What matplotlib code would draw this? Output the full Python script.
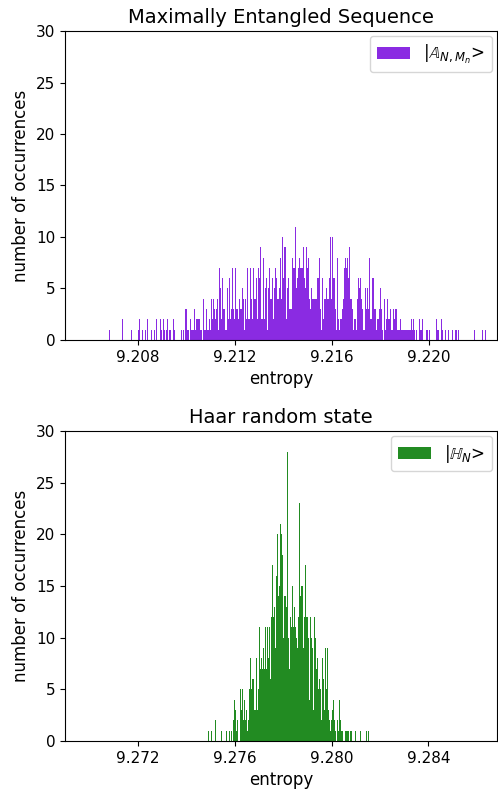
import matplotlib
matplotlib.use("Agg")
import matplotlib.pyplot as plt
import numpy as np

# ---------------- data ----------------
# Maximally entangled sequence: histogram counts (consecutive bins)
top_start = 9.20681
top_binw = 0.0000412
top_counts = [
    1, 0, 0, 0, 0, 0, 0, 0, 0, 0,
    0, 0, 0, 2, 0, 0, 0, 0, 0, 0,
    0, 0, 1, 0, 0, 0, 0, 0, 0, 1,
    2, 0, 0, 1, 0, 0, 1, 0, 2, 0,
    0, 0, 1, 0, 0, 1, 0, 2, 0, 0,
    0, 2, 1, 0, 2, 1, 0, 1, 2, 0,
    1, 1, 0, 0, 2, 1, 0, 0, 0, 0,
    0, 0, 1, 0, 1, 0, 3, 3, 1, 1,
    0, 2, 1, 1, 1, 3, 1, 2, 2, 2,
    2, 1, 1, 0, 4, 1, 1, 3, 1, 1,
    2, 1, 4, 2, 4, 3, 2, 3, 4, 1,
    7, 5, 2, 6, 3, 3, 1, 1, 5, 2,
    6, 2, 3, 7, 3, 2, 7, 3, 3, 2,
    4, 3, 3, 5, 4, 1, 4, 2, 7, 2,
    2, 7, 4, 2, 7, 4, 4, 6, 2, 7,
    6, 9, 2, 2, 8, 2, 5, 6, 1, 5,
    7, 4, 4, 6, 2, 5, 7, 6, 4, 4,
    5, 8, 4, 10, 6, 9, 9, 2, 5, 6,
    3, 3, 3, 8, 7, 7, 11, 5, 6, 7,
    8, 7, 7, 7, 9, 6, 5, 9, 7, 8,
    4, 3, 5, 4, 4, 4, 4, 4, 6, 6,
    8, 3, 1, 6, 2, 4, 4, 5, 4, 4,
    6, 10, 4, 10, 6, 6, 3, 1, 8, 2,
    1, 2, 2, 3, 4, 7, 8, 7, 8, 6,
    9, 4, 4, 3, 1, 2, 2, 1, 4, 6,
    5, 6, 4, 3, 1, 1, 5, 3, 5, 3,
    8, 2, 2, 6, 6, 3, 3, 1, 2, 2,
    3, 5, 3, 1, 0, 4, 1, 2, 4, 2,
    2, 3, 1, 1, 3, 2, 3, 3, 1, 1,
    1, 2, 1, 1, 1, 1, 1, 1, 1, 1,
    1, 1, 2, 1, 2, 1, 0, 1, 0, 0,
    2, 1, 1, 2, 0, 0, 0, 1, 1, 0,
    1, 0, 0, 0, 0, 0, 0, 2, 1, 1,
    0, 0, 2, 1, 0, 0, 1, 0, 0, 1,
    0, 0, 0, 1, 0, 0, 1, 1, 0, 1,
    0, 0, 0, 0, 0, 0, 0, 0, 0, 0,
    0, 0, 0, 0, 0, 1, 0, 0, 0, 0,
    0, 0, 0, 1, 0, 0, 1,
]

# Haar random state: histogram counts (consecutive bins)
bot_start = 9.27476
bot_binw = 0.0000413
bot_counts = [
    0, 0, 0, 1, 0, 0, 1, 0, 0, 0,
    2, 0, 0, 0, 0, 0, 1, 0, 0, 0,
    0, 1, 0, 0, 1, 0, 1, 0, 2, 4,
    3, 1, 2, 0, 0, 5, 3, 5, 2, 4,
    2, 3, 1, 2, 5, 8, 5, 6, 6, 3,
    3, 8, 3, 5, 11, 7, 8, 7, 9, 7,
    11, 7, 11, 8, 11, 6, 12, 17, 12, 13,
    9, 16, 20, 14, 15, 21, 20, 18, 10, 14,
    14, 13, 28, 10, 7, 12, 11, 15, 11, 13,
    11, 10, 9, 12, 23, 14, 15, 15, 9, 12,
    17, 12, 12, 10, 4, 12, 10, 9, 3, 12,
    10, 7, 8, 5, 6, 5, 2, 8, 6, 3,
    9, 5, 9, 3, 2, 1, 2, 3, 4, 2,
    1, 0, 2, 1, 4, 2, 1, 1, 0, 0,
    1, 1, 1, 1, 0, 1, 1, 0, 0, 0,
    1, 0, 0, 0, 0, 1, 0, 0, 0, 0,
    0, 1, 0, 1,
]

top_xlim = (9.2050, 9.2228)
bot_xlim = (9.26897, 9.28684)
top_ticks = [9.208, 9.212, 9.216, 9.220]
bot_ticks = [9.272, 9.276, 9.280, 9.284]
yticks = [0, 5, 10, 15, 20, 25, 30]

top_title = "Maximally Entangled Sequence"
bot_title = "Haar random state"
top_label = r"$|\mathbb{A}_{N,M_n}$>"
bot_label = r"$|\mathbb{H}_{N}$>"

# ---------------- plot ----------------
fig = plt.figure(figsize=(4.98, 7.91), dpi=100)
ax1 = fig.add_axes([0.1305, 0.5702, 0.8675, 0.3906])
ax2 = fig.add_axes([0.1305, 0.0632, 0.8675, 0.3919])


def draw(ax, start, bw, counts, color, label, title, xlim, xticks):
    counts = np.asarray(counts, dtype=float)
    edges = start + bw * np.arange(len(counts) + 1)
    centers = 0.5 * (edges[:-1] + edges[1:])
    ax.hist(centers, bins=edges, weights=counts, color=color, label=label)
    ax.set_xlim(*xlim)
    ax.set_ylim(0, 30)
    ax.set_xticks(xticks)
    ax.set_xticklabels([f"{t:.3f}" for t in xticks])
    ax.set_yticks(yticks)
    ax.tick_params(labelsize=11)
    ax.set_xlabel("entropy", fontsize=12)
    ax.set_ylabel("number of occurrences", fontsize=12)
    ax.set_title(title, fontsize=14)
    ax.legend(loc="upper right", fontsize=12, borderaxespad=0.3)


draw(ax1, top_start, top_binw, top_counts, "blueviolet", top_label,
     top_title, top_xlim, top_ticks)
draw(ax2, bot_start, bot_binw, bot_counts, "forestgreen", bot_label,
     bot_title, bot_xlim, bot_ticks)

fig.savefig("out.png", dpi=100)
